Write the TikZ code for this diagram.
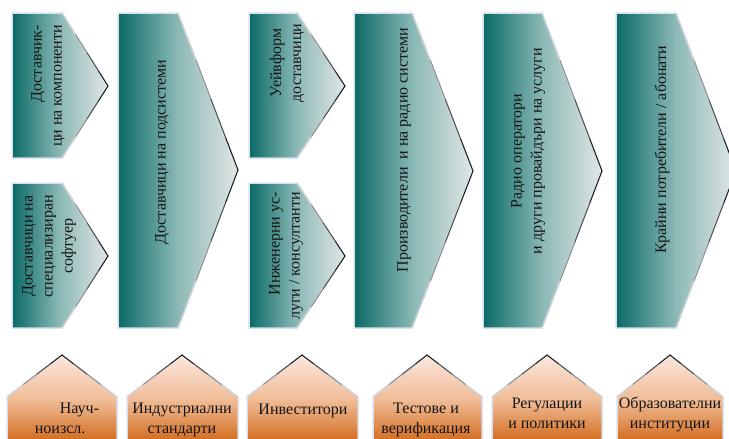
\documentclass[tikz,border=0pt]{standalone}
\usepackage{fontspec}
\setmainfont{Liberation Serif}
\usetikzlibrary{calc}

\definecolor{tealdark}{HTML}{0A6A66}
\definecolor{tealmid}{HTML}{8CB9B6}
\definecolor{teallight}{HTML}{E2E6E6}
\definecolor{orangetop}{HTML}{FBE6DE}
\definecolor{orangemid}{HTML}{F0BC96}
\definecolor{orangebot}{HTML}{D06414}
\definecolor{rimblue}{HTML}{D9E0EE}
\definecolor{inktext}{HTML}{151515}

\tikzstyle{colfill} = [
    left color=tealdark,
    right color=teallight,
    middle color=tealmid,
    draw=rimblue,
    line width=1.5pt,
    line join=round
]
\tikzstyle{basefill} = [
    top color=orangetop,
    bottom color=orangebot,
    middle color=orangemid,
    draw=rimblue,
    line width=1.5pt,
    line join=round
]
\tikzstyle{tipedge} = [line width=1pt, line cap=round]
\tikzstyle{coltext} = [
    rotate=90,
    inner sep=0pt,
    text=inktext,
    font=\fontsize{16}{20}\selectfont
]
\tikzstyle{basetext} = [
    inner sep=0pt,
    align=center,
    text=inktext,
    font=\fontsize{16}{20}\selectfont
]

% edge that darkens from #1 towards the point #2
\newcommand{\darkedge}[2]{%
  \draw[tipedge, black!20] (#1) -- ($(#1)!0.3!(#2)$);
  \draw[tipedge, black!45] ($(#1)!0.3!(#2)$) -- ($(#1)!0.55!(#2)$);
  \draw[tipedge, black!70] ($(#1)!0.55!(#2)$) -- ($(#1)!0.8!(#2)$);
  \draw[tipedge, black!90] ($(#1)!0.8!(#2)$) -- (#2);
}
% column: left x, shoulder x, tip x, top y, tip y, bottom y
\newcommand{\colbox}[6]{%
  \path[colfill] (#1,#4) -- (#2,#4) -- (#3,#5) -- (#2,#6) -- (#1,#6) -- cycle;
  \darkedge{#2,#4}{#3,#5}
  \darkedge{#2,#6}{#3,#5}
}
% base: left x, peak x, right x
\newcommand{\basebox}[3]{%
  \path[basefill] (#1,397) -- (#2,355) -- (#3,397) -- (#3,445) -- (#1,445) -- cycle;
  \darkedge{#1,397}{#2,355}
  \darkedge{#3,397}{#2,355}
}

\begin{document}
\begin{tikzpicture}[x=1pt, y=-1pt]

\useasboundingbox (0,0) rectangle (729,439);
\clip (0,0) rectangle (729,439);

% value chain columns
\colbox{12}{62}{108}{13}{86}{158}
\colbox{12}{62}{108}{183}{256}{328}
\colbox{118}{178}{238}{13}{170}{328}
\colbox{249}{297}{345}{13}{86}{158}
\colbox{249}{297}{345}{183}{256}{328}
\colbox{354}{412}{473}{13}{171}{328}
\colbox{483}{542}{602}{13}{171}{328}
\colbox{616}{676}{736}{13}{171}{328}

\node (compsup) [coltext, align=right] at (48,86)
{Доставчик-\\ци на компоненти};

\node (softsup) [coltext, align=center] at (49,246)
{Доставчици на\\специализиран\\софтуер};

\node (subsup) [coltext] at (162,152)
{Доставчици на подсистеми};

\node (wavesup) [coltext, align=center] at (287,63)
{Уейвформ\\доставчици};

\node (engcons) [coltext, align=right] at (286,256)
{Инженерни ус-\\луги / консултанти};

\node (radiomfr) [coltext] at (404,150)
{Производители\ \ и на радио системи};

\node (operators) [coltext, align=center] at (528,151)
{Радио оператори\\и други провайдъри на услуги};

\node (endusers) [coltext] at (662,150)
{Крайни потребители / абонати};

% supporting bases
\basebox{7}{62}{117}
\basebox{127}{182}{238}
\basebox{247}{302}{358}
\basebox{373}{427}{482}
\basebox{492}{547}{602}
\basebox{617}{670}{723}

\node (research) [basetext, align=left] at (67,418)
{\hspace*{25pt}Науч-\\ноизсл.};

\node (standards) [basetext] at (182,420)
{Индустриални\\стандарти};

\node (investors) [basetext] at (303,411)
{Инвеститори};

\node (testing) [basetext] at (426,420)
{Тестове и\\верификация};

\node (policy) [basetext] at (547,413)
{Регулации\\и политики};

\node (education) [basetext] at (670,414)
{Образователни\\институции};

\end{tikzpicture}
\end{document}
